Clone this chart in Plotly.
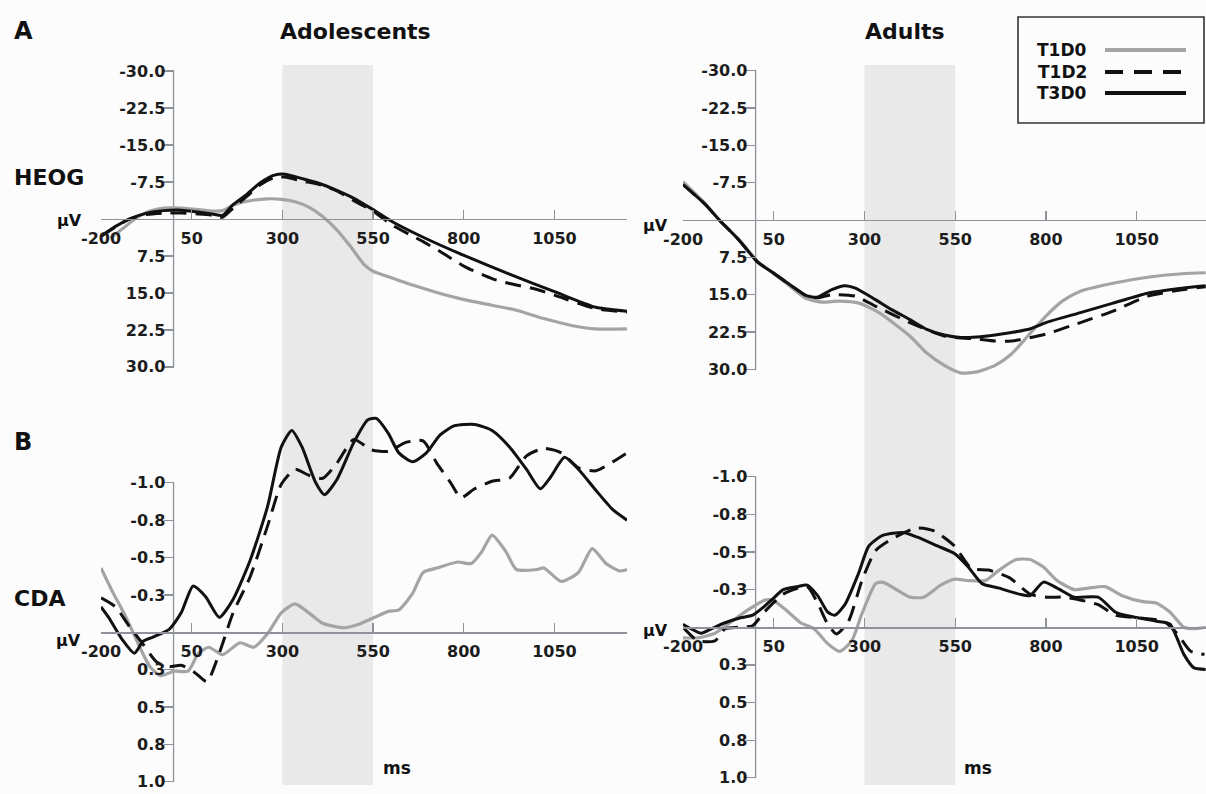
import plotly.graph_objects as go

W, H = 1206, 794

# ---------------- data ----------------
# HEOG, Adolescents
heog_ado_t3d0_t = [-200, -160, -122, -74, -27, 21, 69, 107, 135, 164, 202, 240, 278, 307, 354, 402, 450, 497, 550, 602, 688, 804, 926, 1052, 1164, 1250]
heog_ado_t3d0_v = [3.5, 1.5, 0.0, -1.2, -1.7, -1.8, -1.4, -1.0, -0.75, -2.9, -5.0, -7.4, -8.9, -9.1, -8.2, -7.2, -5.8, -4.2, -1.9, 0.5, 3.7, 7.5, 11.2, 14.8, 17.9, 18.7]
heog_ado_t1d2_t = [-200, -122, -74, -27, 21, 69, 107, 135, 164, 202, 240, 278, 307, 354, 402, 450, 497, 550, 602, 688, 735, 804, 878, 926, 992, 1052, 1164, 1250]
heog_ado_t1d2_v = [3.5, 0.0, -0.9, -1.2, -1.2, -1.0, -0.75, -0.35, -2.2, -4.6, -7.0, -8.4, -8.5, -7.7, -7.0, -5.7, -3.7, -1.6, 1.2, 4.6, 6.6, 9.7, 12.1, 13.1, 14.1, 15.5, 18.2, 18.9]
heog_ado_t1d0_t = [-174, -141, -103, -65, -27, 21, 69, 107, 135, 164, 202, 259, 297, 335, 373, 411, 450, 488, 526, 550, 592, 659, 735, 804, 878, 945, 1021, 1097, 1164, 1250]
heog_ado_t1d0_v = [3.9, 2.0, -0.2, -1.6, -2.2, -2.2, -1.9, -1.6, -1.7, -2.8, -3.6, -4.1, -4.0, -3.5, -2.4, -0.5, 2.2, 5.6, 9.3, 10.6, 11.7, 13.4, 15.1, 16.4, 17.5, 18.5, 20.2, 21.6, 22.3, 22.3]

# HEOG, Adults
heog_adu_t3d0_t = [-200, -140, -100, -45, 5, 50, 95, 140, 170, 210, 245, 275, 330, 375, 425, 470, 520, 565, 610, 660, 705, 755, 800, 895, 985, 1080, 1175, 1240]
heog_adu_t3d0_v = [-7.1, -3.2, 0.0, 4.1, 8.4, 10.7, 13.0, 15.2, 15.5, 14.0, 13.2, 13.7, 16.0, 18.0, 20.0, 21.9, 23.1, 23.6, 23.5, 23.1, 22.6, 21.9, 20.6, 18.6, 16.7, 14.7, 13.7, 13.2]
heog_adu_t1d2_t = [-200, -140, -100, -45, 5, 50, 95, 140, 170, 210, 275, 330, 425, 520, 610, 660, 705, 800, 895, 985, 1080, 1175, 1240]
heog_adu_t1d2_v = [-7.1, -3.2, 0.0, 4.1, 8.4, 10.7, 13.0, 15.2, 15.6, 15.0, 15.3, 17.3, 20.6, 23.3, 23.9, 24.3, 24.3, 22.9, 20.6, 18.3, 15.3, 14.0, 13.4]
heog_adu_t1d0_t = [-200, -140, -100, -45, 5, 50, 95, 140, 185, 230, 285, 340, 425, 470, 520, 565, 610, 660, 705, 755, 800, 845, 895, 985, 1080, 1175, 1240]
heog_adu_t1d0_v = [-7.7, -3.4, 0.0, 4.0, 8.3, 10.8, 13.3, 15.8, 16.5, 16.3, 16.7, 18.6, 23.3, 26.6, 29.2, 30.7, 30.5, 29.2, 26.9, 22.9, 19.3, 16.3, 14.3, 12.7, 11.5, 10.8, 10.6]

# CDA, Adolescents
cda_ado_t3d0_t = [-200, -179, -141, -108, -84, -55, -12, 21, 54, 88, 126, 164, 211, 259, 297, 326, 354, 392, 416, 450, 497, 535, 559, 592, 621, 659, 697, 735, 773, 830, 878, 926, 973, 1011, 1040, 1078, 1116, 1164, 1211, 1250]
cda_ado_t3d0_v = [-0.17, -0.10, 0.05, 0.14, 0.06, 0.03, -0.02, -0.13, -0.31, -0.24, -0.10, -0.22, -0.48, -0.84, -1.24, -1.35, -1.24, -1.00, -0.92, -1.02, -1.27, -1.42, -1.43, -1.33, -1.20, -1.14, -1.20, -1.32, -1.38, -1.39, -1.35, -1.24, -1.09, -0.96, -1.04, -1.17, -1.09, -0.95, -0.82, -0.75]
cda_ado_t1d2_t = [-200, -160, -122, -84, -46, -12, 21, 59, 92, 126, 164, 211, 259, 297, 335, 373, 411, 450, 497, 545, 592, 640, 688, 726, 764, 792, 830, 878, 926, 973, 1021, 1069, 1116, 1164, 1211, 1250]
cda_ado_t1d2_v = [-0.23, -0.17, -0.04, 0.08, 0.20, 0.23, 0.22, 0.27, 0.33, 0.14, -0.13, -0.37, -0.71, -0.99, -1.09, -1.05, -1.03, -1.13, -1.29, -1.22, -1.21, -1.27, -1.28, -1.13, -1.00, -0.90, -0.96, -1.01, -1.03, -1.18, -1.23, -1.20, -1.10, -1.08, -1.14, -1.20]
cda_ado_t1d0_t = [-200, -170, -131, -93, -65, -36, 2, 40, 69, 97, 135, 183, 221, 259, 297, 335, 373, 411, 469, 507, 554, 592, 621, 659, 688, 726, 783, 821, 850, 878, 916, 945, 1002, 1021, 1069, 1116, 1154, 1192, 1230, 1250]
cda_ado_t1d0_v = [-0.43, -0.28, -0.10, 0.10, 0.23, 0.29, 0.26, 0.26, 0.14, 0.10, 0.15, 0.07, 0.10, 0.01, -0.13, -0.19, -0.13, -0.06, -0.03, -0.05, -0.10, -0.14, -0.15, -0.26, -0.40, -0.43, -0.47, -0.46, -0.54, -0.65, -0.54, -0.42, -0.42, -0.43, -0.34, -0.40, -0.56, -0.46, -0.41, -0.42]

# CDA, Adults
cda_adu_t3d0_t = [-200, -178, -150, -122, -84, -46, -8, 20, 48, 76, 114, 142, 171, 199, 218, 246, 284, 312, 350, 407, 444, 501, 548, 586, 624, 671, 727, 756, 793, 831, 878, 944, 992, 1039, 1105, 1142, 1180, 1208, 1240]
cda_adu_t3d0_v = [-0.02, 0.01, 0.04, 0.01, -0.03, -0.06, -0.08, -0.13, -0.19, -0.25, -0.27, -0.28, -0.21, -0.10, -0.08, -0.15, -0.36, -0.54, -0.61, -0.63, -0.60, -0.54, -0.49, -0.40, -0.29, -0.26, -0.22, -0.21, -0.30, -0.26, -0.20, -0.20, -0.10, -0.07, -0.04, -0.02, 0.18, 0.27, 0.28]
cda_adu_t1d2_t = [-200, -159, -112, -84, -46, -8, 20, 48, 76, 142, 171, 199, 223, 256, 293, 331, 378, 444, 492, 548, 595, 642, 699, 756, 803, 850, 897, 944, 992, 1067, 1124, 1161, 1199, 1237]
cda_adu_t1d2_v = [0.0, 0.09, 0.09, 0.01, 0.0, -0.01, -0.09, -0.16, -0.22, -0.27, -0.16, -0.02, 0.045, -0.04, -0.31, -0.51, -0.59, -0.66, -0.64, -0.54, -0.39, -0.38, -0.33, -0.22, -0.20, -0.20, -0.18, -0.15, -0.08, -0.06, -0.04, 0.04, 0.16, 0.18]
cda_adu_t1d0_t = [-200, -159, -112, -65, -18, 25, 48, 86, 124, 161, 199, 232, 265, 293, 331, 350, 388, 425, 463, 510, 548, 586, 633, 671, 718, 756, 793, 831, 878, 916, 963, 1010, 1067, 1105, 1142, 1180, 1208, 1240]
cda_adu_t1d0_v = [0.07, 0.07, 0.04, -0.04, -0.12, -0.18, -0.18, -0.11, -0.03, 0.01, 0.11, 0.16, 0.09, -0.09, -0.29, -0.30, -0.25, -0.20, -0.20, -0.28, -0.32, -0.31, -0.31, -0.38, -0.45, -0.45, -0.40, -0.31, -0.25, -0.26, -0.27, -0.21, -0.17, -0.16, -0.10, 0.0, 0.01, 0.0]

series_names = ["T1D0", "T1D2", "T3D0"]
x_tickvals = [-200, 50, 300, 550, 800, 1050]
heog_tickvals = [-30, -22.5, -15, -7.5, 7.5, 15, 22.5, 30]
heog_ticktext = ["-30.0", "-22.5", "-15.0", "-7.5", "7.5", "15.0", "22.5", "30.0"]
cda_tickvals = [-1.0, -0.75, -0.5, -0.25, 0.25, 0.5, 0.75, 1.0]
cda_ticktext = ["-1.0", "-0.8", "-0.5", "-0.3", "0.3", "0.5", "0.8", "1.0"]
window = (300, 550)

# ---------------- styles ----------------
GRAY = "#a4a4a4"
BLACK = "#111111"
AXIS = "#8e9399"
SHADE = "#e9e9e9"
BG = "#fcfcfd"
FONT = "DejaVu Sans, Liberation Sans, Arial, sans-serif"
styles = {
    "T1D0": dict(color=GRAY, width=3.2),
    "T1D2": dict(color=BLACK, width=3.0, dash="16px,9px"),
    "T3D0": dict(color=BLACK, width=3.0),
}

# panel geometry in pixels: x domain px, x range, y px of top/bottom, y range (bottom, top)
panels = [
    dict(n="", xd=(101, 627), xr=(-200, 1250), yd=(66.2, 386.6), yr=(34, -31), zero_px=219.0, kind="heog",
         data={"T1D0": (heog_ado_t1d0_t, heog_ado_t1d0_v), "T1D2": (heog_ado_t1d2_t, heog_ado_t1d2_v), "T3D0": (heog_ado_t3d0_t, heog_ado_t3d0_v)}),
    dict(n="2", xd=(683, 1206), xr=(-200, 1241), yd=(65.6, 389.3), yr=(34, -31), zero_px=220.0, kind="heog",
         data={"T1D0": (heog_adu_t1d0_t, heog_adu_t1d0_v), "T1D2": (heog_adu_t1d2_t, heog_adu_t1d2_v), "T3D0": (heog_adu_t3d0_t, heog_adu_t3d0_v)}),
    dict(n="3", xd=(101, 627), xr=(-200, 1250), yd=(408.0, 789.3), yr=(1.05, -1.5), zero_px=632.3, kind="cda",
         data={"T1D0": (cda_ado_t1d0_t, cda_ado_t1d0_v), "T1D2": (cda_ado_t1d2_t, cda_ado_t1d2_v), "T3D0": (cda_ado_t3d0_t, cda_ado_t3d0_v)}),
    dict(n="4", xd=(683, 1206), xr=(-200, 1241), yd=(401.5, 785.3), yr=(1.05, -1.5), zero_px=627.3, kind="cda",
         data={"T1D0": (cda_adu_t1d0_t, cda_adu_t1d0_v), "T1D2": (cda_adu_t1d2_t, cda_adu_t1d2_v), "T3D0": (cda_adu_t3d0_t, cda_adu_t3d0_v)}),
]

fig = go.Figure()
layout = {}
shapes = []
tickfont = dict(family=FONT, size=16, color="#1c1c1c", weight="bold")

for p in panels:
    n = p["n"]
    xa, ya = "x" + n, "y" + n
    xd = [p["xd"][0] / W, p["xd"][1] / W]
    yd = [1 - p["yd"][1] / H, 1 - p["yd"][0] / H]
    x0r, x1r = p["xr"]
    yaxis_pos = xd[0] + (0 - x0r) / (x1r - x0r) * (xd[1] - xd[0])
    xaxis_pos = 1 - p["zero_px"] / H
    for name in series_names:
        t, v = p["data"][name]
        fig.add_trace(go.Scatter(x=t, y=v, mode="lines", name=name, showlegend=False,
                                 line=dict(shape="spline", smoothing=0.6, **styles[name]),
                                 xaxis=xa, yaxis=ya, hoverinfo="skip"))
    layout["xaxis" + n] = dict(domain=xd, range=list(p["xr"]), anchor="free", position=xaxis_pos,
                               automargin=False,
                               showgrid=False, zeroline=False, showline=True, linecolor=AXIS, linewidth=1.3,
                               tickmode="array", tickvals=x_tickvals, ticktext=[str(v) for v in x_tickvals],
                               ticks="inside", ticklen=9, tickwidth=1.3, tickcolor=AXIS,
                               tickfont=tickfont, ticklabelstandoff=4, fixedrange=True)
    if p["kind"] == "heog":
        tv, tt, lim = heog_tickvals, heog_ticktext, 30
    else:
        tv, tt, lim = cda_tickvals, cda_ticktext, 1.0
    layout["yaxis" + n] = dict(domain=yd, range=list(p["yr"]), anchor="free", position=yaxis_pos,
                               automargin=False,
                               showgrid=False, zeroline=False, showline=False,
                               tickmode="array", tickvals=tv, ticktext=tt,
                               ticks="outside", ticklen=10, tickwidth=1.3, tickcolor=AXIS,
                               tickfont=tickfont, ticklabelstandoff=-5, fixedrange=True)
    # vertical axis line (from lowest to highest tick)
    shapes.append(dict(type="line", xref=xa, yref=ya, x0=0, x1=0, y0=-lim, y1=lim,
                       line=dict(color=AXIS, width=1.3), layer="below"))

# shaded analysis window (continuous through both rows of each column)
for xa in ["x", "x2"]:
    shapes.append(dict(type="rect", xref=xa, yref="paper", x0=window[0], x1=window[1],
                       y0=1 - 785 / H, y1=1 - 65 / H, fillcolor=SHADE, line=dict(width=0), layer="below"))

# legend box (text left, line sample right)
shapes.append(dict(type="rect", xref="paper", yref="paper", x0=1018 / W, x1=1204 / W,
                   y0=1 - 123 / H, y1=1 - 17 / H, line=dict(color="#333333", width=1.6),
                   fillcolor="rgba(0,0,0,0)"))
leg_y = [50, 72, 93]
annotations = []
for name, ly in zip(series_names, leg_y):
    st = styles[name]
    ln = dict(color=st["color"], width=4)
    if "dash" in st:
        ln["dash"] = "18px,11px"
    shapes.append(dict(type="line", xref="paper", yref="paper", x0=1105 / W, x1=1186 / W,
                       y0=1 - ly / H, y1=1 - ly / H, line=ln))
    annotations.append(dict(text="<b>%s</b>" % name, x=1089 / W, y=1 - ly / H, xref="paper", yref="paper",
                            xanchor="right", yanchor="middle", showarrow=False,
                            font=dict(family=FONT, size=17, color="#111")))


def label(text, xpx, ypx, size, anchor="center"):
    annotations.append(dict(text="<b>%s</b>" % text, x=xpx / W, y=1 - ypx / H, xref="paper", yref="paper",
                            xanchor=anchor, yanchor="middle", showarrow=False,
                            font=dict(family=FONT, size=size, color="#111")))


label("A", 12, 31, 24, "left")
label("B", 12, 442, 24, "left")
label("Adolescents", 355, 31, 22)
label("Adults", 905, 31, 22)
label("HEOG", 12, 177, 22, "left")
label("CDA", 12, 598, 22, "left")
label("μV", 55, 221, 16, "left")
label("μV", 641, 225, 16, "left")
label("μV", 54, 640, 16, "left")
label("μV", 641, 630, 16, "left")
label("ms", 397, 768, 17)
label("ms", 978, 768, 17)

fig.update_layout(width=W, height=H, margin=dict(l=0, r=0, t=0, b=0, autoexpand=False),
                  paper_bgcolor=BG, plot_bgcolor=BG, showlegend=False, hovermode=False,
                  shapes=shapes, annotations=annotations, **layout)

fig.write_html("out.html", config={"displayModeBar": False, "staticPlot": True},
               post_script="document.body.style.margin='0px';document.body.style.padding='0px';"
                           "document.body.style.overflow='hidden';"
                           "document.documentElement.style.overflow='hidden';")
